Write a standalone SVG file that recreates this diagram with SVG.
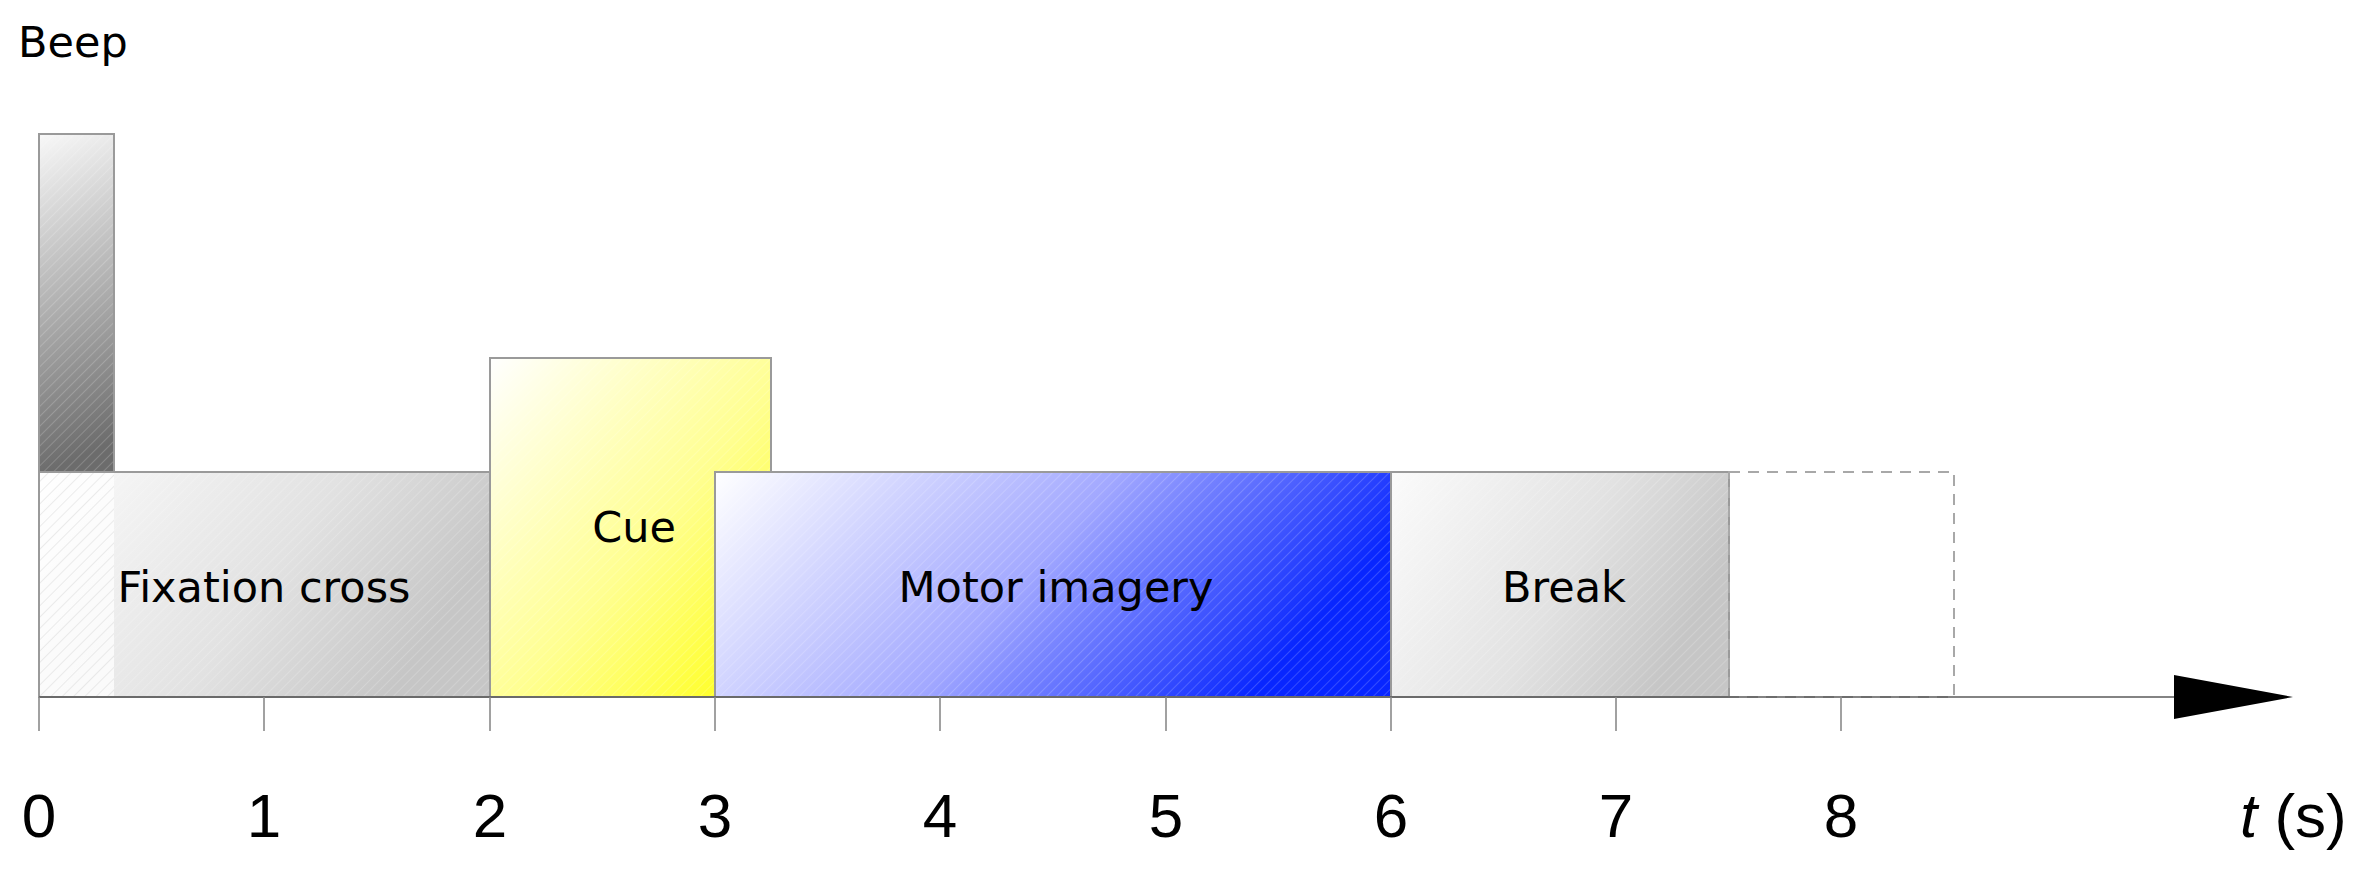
<svg xmlns="http://www.w3.org/2000/svg" width="2362" height="872" viewBox="0 0 2362 872">
  <style>
    .box { stroke: #9a9a9a; stroke-width: 2; }
    .lbl { font-family: "DejaVu Sans", sans-serif; font-size: 43px; fill: #000; }
    .num { font-family: "Liberation Sans", Arial, sans-serif; font-size: 62px; fill: #000; }
    .mid { text-anchor: middle; }
    .tick { stroke: #8a8a8a; stroke-width: 1.6; }
  </style>
  <defs>
    <linearGradient id="gGray" x1="0" y1="0" x2="1" y2="0.35">
      <stop offset="0" stop-color="#fbfbfb"/>
      <stop offset="0.6" stop-color="#e2e2e2"/>
      <stop offset="1" stop-color="#c6c6c6"/>
    </linearGradient>
    <linearGradient id="gBeep" x1="0" y1="0" x2="0.1" y2="1">
      <stop offset="0" stop-color="#f8f8f8"/>
      <stop offset="0.5" stop-color="#b4b4b4"/>
      <stop offset="1" stop-color="#6c6c6c"/>
    </linearGradient>
    <linearGradient id="gYellow" x1="0" y1="0" x2="1" y2="1">
      <stop offset="0" stop-color="#ffffff"/>
      <stop offset="0.55" stop-color="#ffff90"/>
      <stop offset="1" stop-color="#ffff10"/>
    </linearGradient>
    <linearGradient id="gBlue" x1="0" y1="0" x2="1" y2="0.3">
      <stop offset="0" stop-color="#ffffff"/>
      <stop offset="0.55" stop-color="#a2a8ff"/>
      <stop offset="1" stop-color="#0826ff"/>
    </linearGradient>
    <pattern id="hatch" width="7" height="7" patternUnits="userSpaceOnUse" patternTransform="rotate(45)">
      <line x1="0" y1="0" x2="0" y2="7" stroke="#ffffff" stroke-opacity="0.18" stroke-width="2"/>
    </pattern>
    <pattern id="hatchStrip" width="8" height="8" patternUnits="userSpaceOnUse" patternTransform="rotate(45)">
      <line x1="0" y1="0" x2="0" y2="8" stroke="#c8c8c8" stroke-opacity="0.6" stroke-width="1.2"/>
    </pattern>
  </defs>

  <rect width="2362" height="872" fill="#ffffff"/>

  <g id="beep-label">
    <text class="lbl" x="18" y="57">Beep</text>
  </g>

  <g id="fixation">
    <rect class="box" x="39" y="472" width="451" height="225" fill="url(#gGray)"/>
    <rect x="40" y="473" width="74" height="223" fill="#ffffff" fill-opacity="0.75"/>
    <rect x="40" y="473" width="74" height="223" fill="url(#hatchStrip)"/>
    <rect x="114" y="473" width="375" height="223" fill="url(#hatch)"/>
    <text class="lbl mid" x="264" y="602">Fixation cross</text>
  </g>

  <g id="beep">
    <rect class="box" x="39" y="134" width="75" height="338" fill="url(#gBeep)"/>
    <rect x="40" y="135" width="73" height="336" fill="url(#hatch)"/>
  </g>

  <g id="cue">
    <rect class="box" x="490" y="358" width="281" height="339" fill="url(#gYellow)"/>
    <rect x="491" y="359" width="279" height="337" fill="url(#hatch)"/>
    <text class="lbl mid" x="634" y="542">Cue</text>
  </g>

  <g id="motor">
    <rect class="box" x="715" y="472" width="676" height="225" fill="url(#gBlue)"/>
    <rect x="716" y="473" width="674" height="223" fill="url(#hatch)"/>
    <text class="lbl mid" x="1056" y="602">Motor imagery</text>
  </g>

  <g id="break">
    <rect class="box" x="1391" y="472" width="338" height="225" fill="url(#gGray)"/>
    <rect x="1392" y="473" width="336" height="223" fill="url(#hatch)"/>
    <text class="lbl mid" x="1564" y="602">Break</text>
  </g>

  <g id="next-trial">
    <rect x="1729" y="472" width="225" height="225" fill="none" stroke="#a8a8a8" stroke-width="2" stroke-dasharray="11,8"/>
  </g>

  <g id="connectors">
    <line x1="39" y1="697" x2="2180" y2="697" stroke="#5a5a5a" stroke-width="1.6"/>
    <polygon points="2174,675 2293,697 2174,719" fill="#000000"/>
    <line class="tick" x1="39" y1="697" x2="39" y2="731"/>
    <line class="tick" x1="264" y1="697" x2="264" y2="731"/>
    <line class="tick" x1="490" y1="697" x2="490" y2="731"/>
    <line class="tick" x1="715" y1="697" x2="715" y2="731"/>
    <line class="tick" x1="940" y1="697" x2="940" y2="731"/>
    <line class="tick" x1="1166" y1="697" x2="1166" y2="731"/>
    <line class="tick" x1="1391" y1="697" x2="1391" y2="731"/>
    <line class="tick" x1="1616" y1="697" x2="1616" y2="731"/>
    <line class="tick" x1="1841" y1="697" x2="1841" y2="731"/>
  </g>

  <g id="axis-labels">
    <text class="num mid" x="39" y="837">0</text>
    <text class="num mid" x="264" y="837">1</text>
    <text class="num mid" x="490" y="837">2</text>
    <text class="num mid" x="715" y="837">3</text>
    <text class="num mid" x="940" y="837">4</text>
    <text class="num mid" x="1166" y="837">5</text>
    <text class="num mid" x="1391" y="837">6</text>
    <text class="num mid" x="1616" y="837">7</text>
    <text class="num mid" x="1841" y="837">8</text>
    <text class="num" x="2240" y="837"><tspan font-style="italic">t</tspan> (s)</text>
  </g>
</svg>
